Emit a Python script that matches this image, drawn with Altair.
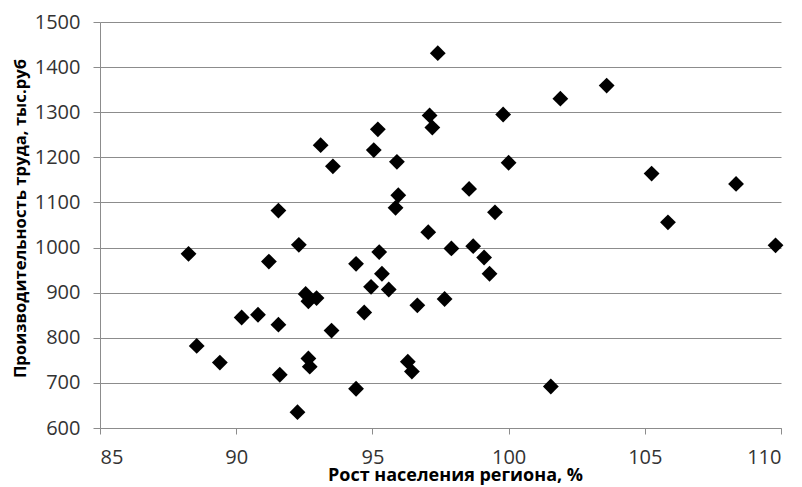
import altair as alt
import pandas as pd

growth = [88.25, 88.55, 89.4, 90.2, 90.8, 91.2, 91.55, 91.6, 91.55, 92.25,
          92.3, 92.55, 92.65, 92.95, 92.65, 92.7, 93.5, 93.1, 93.55, 94.4,
          94.4, 94.7, 94.95, 95.25, 95.35, 95.6, 95.05, 95.2, 95.9, 95.95,
          95.85, 97.05, 97.1, 97.2, 97.4, 98.55, 99.5, 99.8, 100.0, 101.9,
          103.6, 105.25, 108.35, 105.85, 109.8, 97.9, 98.7, 99.1, 99.3, 96.65,
          97.65, 96.3, 96.45, 101.55]
productivity = [986, 782, 745, 845, 851, 969, 829, 718, 1082, 635,
                1006, 897, 881, 888, 754, 736, 816, 1227, 1180, 964,
                687, 856, 913, 990, 942, 907, 1216, 1262, 1190, 1116,
                1088, 1034, 1293, 1266, 1431, 1130, 1078, 1295, 1188, 1330,
                1359, 1164, 1141, 1056, 1005, 998, 1003, 978, 942, 872,
                886, 747, 725, 692]

x_ticks = [85, 90, 95, 100, 105, 110]
y_ticks = [600, 700, 800, 900, 1000, 1100, 1200, 1300, 1400, 1500]

df = pd.DataFrame({"x": growth, "y": productivity})

FONT = "Open Sans"
GRID = "#8c8c8c"

chart = alt.Chart(df).mark_point(
    shape="diamond", filled=True, color="black", size=250, opacity=1
).encode(
    x=alt.X("x:Q",
            scale=alt.Scale(domain=[85, 110], nice=False, zero=False),
            axis=alt.Axis(values=x_ticks, grid=False, format="d",
                          title="Рост населения региона, %",
                          domainColor=GRID, tickColor=GRID, tickSize=6,
                          labelPadding=13, labelFont=FONT, labelFontSize=20,
                          labelColor="#333333", titleFont=FONT, titleFontSize=18,
                          titleFontWeight="bold", titleColor="black",
                          titleX=355, titleY=52, titleAlign="center",
                          titleBaseline="alphabetic")),
    y=alt.Y("y:Q",
            scale=alt.Scale(domain=[600, 1500], nice=False, zero=False),
            axis=alt.Axis(values=y_ticks, grid=True, gridColor=GRID, gridWidth=1,
                          format="d",
                          title="Производительность труда, тыс.руб",
                          domainColor=GRID, tickColor=GRID, tickSize=7,
                          labelPadding=13, labelFont=FONT, labelFontSize=20,
                          labelColor="#333333", titleFont=FONT, titleFontSize=16.7,
                          titleFontWeight="bold", titleColor="black",
                          titleX=-75, titleY=196, titleAlign="center",
                          titleBaseline="alphabetic", titleAngle=270)),
).properties(
    width=681, height=406,
    autosize=alt.AutoSizeParams(type="none"),
    padding={"left": 92, "top": 14, "right": 13, "bottom": 58},
).configure_view(stroke=None)

chart.save("out.html", embed_options={"renderer": "svg", "actions": False})
